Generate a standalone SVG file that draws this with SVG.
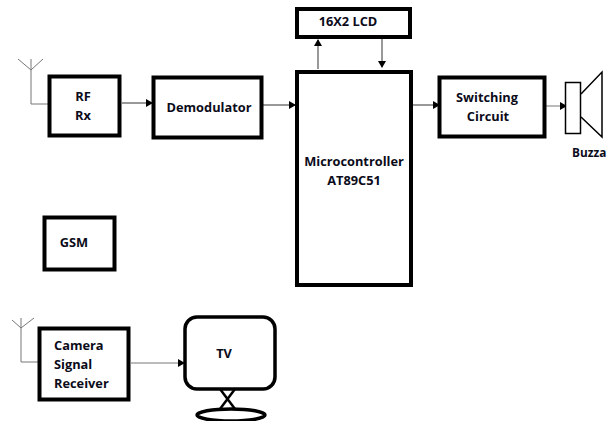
<svg xmlns="http://www.w3.org/2000/svg" width="608" height="421" viewBox="0 0 608 421">
<defs>
<style>
.box{fill:#fff;stroke:#000;stroke-width:4}
.t{font-family:"Open Sans","Noto Sans","DejaVu Sans",sans-serif;font-weight:700;font-size:12.800px;fill:#0b0b1a;text-anchor:middle}
.l{text-anchor:start}
.w{fill:none;stroke:#333;stroke-width:1}
.g{fill:none;stroke:#777;stroke-width:1}
</style>
<marker id="a" markerUnits="userSpaceOnUse" markerWidth="7" markerHeight="8" refX="6" refY="4" orient="auto"><path d="M0 0L7 4L0 8Z" fill="#000"/></marker>
</defs>
<rect width="608" height="421" fill="#fff"/>
<g id="connectors">
<path class="w" d="M122 103H152" marker-end="url(#a)"/>
<path class="w" d="M263 105H295" marker-end="url(#a)"/>
<path class="w" d="M318 69V40" marker-end="url(#a)"/>
<path class="w" d="M382 39V67" marker-end="url(#a)"/>
<path class="w" d="M412 105H439" marker-end="url(#a)"/>
<path class="g" d="M546 106H566" marker-end="url(#a)"/>
<path class="g" d="M131 363H184" marker-end="url(#a)"/>
<path class="g" d="M31 59V104H48M18 59L31 70L43 59"/>
<path class="g" d="M21 318V362H38M12 320L21 328L34 318"/>
</g>
<g id="rf"><rect class="box" x="49.500" y="76.500" width="70" height="59"/><text class="t" x="83" y="101">RF</text><text class="t" x="83" y="120">Rx</text></g>
<g id="demod"><rect class="box" x="153.500" y="77.500" width="108" height="60"/><text class="t" x="209" y="112">Demodulator</text></g>
<g id="lcd"><rect class="box" x="297" y="9" width="113" height="28"/><text class="t" x="348" y="26">16X2 LCD</text></g>
<g id="mcu"><rect class="box" x="297" y="72" width="114" height="213"/><text class="t" x="354" y="166">Microcontroller</text><text class="t" x="354" y="185">AT89C51</text></g>
<g id="switch"><rect class="box" x="439.500" y="77.500" width="105" height="59"/><text class="t" x="487" y="102">Switching</text><text class="t" x="488" y="121">Circuit</text></g>
<g id="buzzer"><rect x="565.500" y="82.500" width="15" height="51" fill="#fff" stroke="#000" stroke-width="1.500"/><path d="M581 94L602 72V137L581 117" fill="none" stroke="#000" stroke-width="1.500"/><text class="t l" x="572" y="157" style="font-size:11.800px">Buzza</text></g>
<g id="gsm"><rect class="box" x="44.500" y="217.500" width="70" height="52"/><text class="t" x="74" y="247">GSM</text></g>
<g id="camera"><rect class="box" x="39.500" y="328.500" width="89" height="71"/><text class="t l" x="54" y="350">Camera</text><text class="t l" x="54" y="369">Signal</text><text class="t l" x="54" y="388">Receiver</text></g>
<g id="tv"><path d="M220 389L235 409M235 389L220 409" stroke="#000" stroke-width="2.500" fill="none"/><rect x="185" y="317" width="90" height="72" rx="12" fill="#fff" stroke="#000" stroke-width="3.500"/><ellipse cx="231" cy="415" rx="34" ry="6" fill="#fff" stroke="#000" stroke-width="3.500"/><text class="t" x="224" y="358">TV</text></g>
</svg>
